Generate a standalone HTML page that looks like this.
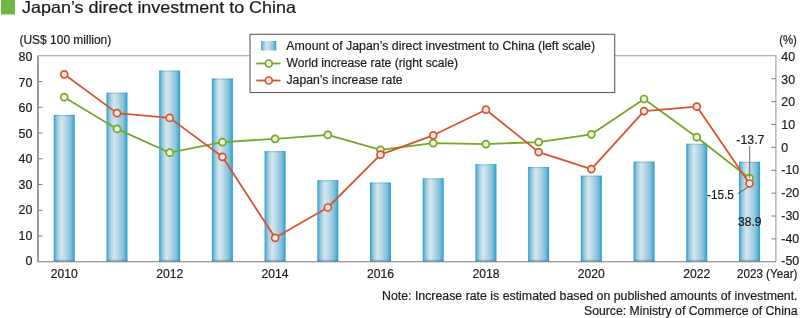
<!DOCTYPE html><html><head><meta charset="utf-8"><style>
html,body{margin:0;padding:0;background:#fff;width:800px;height:318px;overflow:hidden}
svg{position:absolute;left:0;top:0;display:block;will-change:transform}
text{font-family:"Liberation Sans",sans-serif;fill:#1e1a1b;stroke:#1e1a1b;stroke-width:0.2px;paint-order:stroke}
</style></head><body>
<svg width="800" height="318" viewBox="0 0 800 318">
<defs>
<linearGradient id="bg" x1="0" x2="1" y1="0" y2="0">
<stop offset="0" stop-color="#2c9bc6"/>
<stop offset="0.04" stop-color="#40a6cd"/>
<stop offset="0.1" stop-color="#78bcd8"/>
<stop offset="0.2" stop-color="#a6d0e1"/>
<stop offset="0.36" stop-color="#d5e7ef"/>
<stop offset="0.55" stop-color="#b8d8e6"/>
<stop offset="0.78" stop-color="#86c3dc"/>
<stop offset="0.9" stop-color="#5ab2d4"/>
<stop offset="0.95" stop-color="#3aa6cd"/>
<stop offset="1" stop-color="#2c9dc8"/>
</linearGradient>
</defs>

<rect x="1" y="0" width="14" height="14.5" fill="#6cb945"/>
<text x="22" y="12.8" font-size="16.5" textLength="274" lengthAdjust="spacingAndGlyphs">Japan’s direct investment to China</text>
<text x="19.5" y="43.8" font-size="12" textLength="91.75" lengthAdjust="spacingAndGlyphs">(US$ 100 million)</text>
<text x="779.2" y="44" font-size="12" textLength="17.7" lengthAdjust="spacingAndGlyphs">(%)</text>
<rect x="53.76" y="114.90" width="21" height="146.90" fill="url(#bg)"/>
<rect x="53.76" y="114.90" width="21" height="1.2" fill="#1a86b8" opacity="0.3"/>
<rect x="53.76" y="259.80" width="21" height="1.6" fill="#1a86b8" opacity="0.4"/>
<rect x="106.47" y="92.70" width="21" height="169.10" fill="url(#bg)"/>
<rect x="106.47" y="92.70" width="21" height="1.2" fill="#1a86b8" opacity="0.3"/>
<rect x="106.47" y="259.80" width="21" height="1.6" fill="#1a86b8" opacity="0.4"/>
<rect x="159.18" y="70.60" width="21" height="191.20" fill="url(#bg)"/>
<rect x="159.18" y="70.60" width="21" height="1.2" fill="#1a86b8" opacity="0.3"/>
<rect x="159.18" y="259.80" width="21" height="1.6" fill="#1a86b8" opacity="0.4"/>
<rect x="211.89" y="78.50" width="21" height="183.30" fill="url(#bg)"/>
<rect x="211.89" y="78.50" width="21" height="1.2" fill="#1a86b8" opacity="0.3"/>
<rect x="211.89" y="259.80" width="21" height="1.6" fill="#1a86b8" opacity="0.4"/>
<rect x="264.59" y="151.10" width="21" height="110.70" fill="url(#bg)"/>
<rect x="264.59" y="151.10" width="21" height="1.2" fill="#1a86b8" opacity="0.3"/>
<rect x="264.59" y="259.80" width="21" height="1.6" fill="#1a86b8" opacity="0.4"/>
<rect x="317.31" y="180.20" width="21" height="81.60" fill="url(#bg)"/>
<rect x="317.31" y="180.20" width="21" height="1.2" fill="#1a86b8" opacity="0.3"/>
<rect x="317.31" y="259.80" width="21" height="1.6" fill="#1a86b8" opacity="0.4"/>
<rect x="370.01" y="182.50" width="21" height="79.30" fill="url(#bg)"/>
<rect x="370.01" y="182.50" width="21" height="1.2" fill="#1a86b8" opacity="0.3"/>
<rect x="370.01" y="259.80" width="21" height="1.6" fill="#1a86b8" opacity="0.4"/>
<rect x="422.72" y="178.25" width="21" height="83.55" fill="url(#bg)"/>
<rect x="422.72" y="178.25" width="21" height="1.2" fill="#1a86b8" opacity="0.3"/>
<rect x="422.72" y="259.80" width="21" height="1.6" fill="#1a86b8" opacity="0.4"/>
<rect x="475.44" y="164.25" width="21" height="97.55" fill="url(#bg)"/>
<rect x="475.44" y="164.25" width="21" height="1.2" fill="#1a86b8" opacity="0.3"/>
<rect x="475.44" y="259.80" width="21" height="1.6" fill="#1a86b8" opacity="0.4"/>
<rect x="528.14" y="167.00" width="21" height="94.80" fill="url(#bg)"/>
<rect x="528.14" y="167.00" width="21" height="1.2" fill="#1a86b8" opacity="0.3"/>
<rect x="528.14" y="259.80" width="21" height="1.6" fill="#1a86b8" opacity="0.4"/>
<rect x="580.86" y="175.60" width="21" height="86.20" fill="url(#bg)"/>
<rect x="580.86" y="175.60" width="21" height="1.2" fill="#1a86b8" opacity="0.3"/>
<rect x="580.86" y="259.80" width="21" height="1.6" fill="#1a86b8" opacity="0.4"/>
<rect x="633.56" y="161.60" width="21" height="100.20" fill="url(#bg)"/>
<rect x="633.56" y="161.60" width="21" height="1.2" fill="#1a86b8" opacity="0.3"/>
<rect x="633.56" y="259.80" width="21" height="1.6" fill="#1a86b8" opacity="0.4"/>
<rect x="686.27" y="143.70" width="21" height="118.10" fill="url(#bg)"/>
<rect x="686.27" y="143.70" width="21" height="1.2" fill="#1a86b8" opacity="0.3"/>
<rect x="686.27" y="259.80" width="21" height="1.6" fill="#1a86b8" opacity="0.4"/>
<rect x="738.99" y="161.80" width="21" height="100.00" fill="url(#bg)"/>
<rect x="738.99" y="161.80" width="21" height="1.2" fill="#1a86b8" opacity="0.3"/>
<rect x="738.99" y="259.80" width="21" height="1.6" fill="#1a86b8" opacity="0.4"/>
<path d="M38,261.8 L38,55.8 L775.9,55.8 L775.9,261.8" fill="none" stroke="#9e9a9a" stroke-width="1.1"/>
<path d="M38,55.8 L38,261.8 L775.9,261.8" fill="none" stroke="#7f7979" stroke-width="1.1"/>
<line x1="38" x2="42.5" y1="236.05" y2="236.05" stroke="#7f7979" stroke-width="1"/>
<line x1="38" x2="42.5" y1="210.30" y2="210.30" stroke="#7f7979" stroke-width="1"/>
<line x1="38" x2="42.5" y1="184.55" y2="184.55" stroke="#7f7979" stroke-width="1"/>
<line x1="38" x2="42.5" y1="158.80" y2="158.80" stroke="#7f7979" stroke-width="1"/>
<line x1="38" x2="42.5" y1="133.05" y2="133.05" stroke="#7f7979" stroke-width="1"/>
<line x1="38" x2="42.5" y1="107.30" y2="107.30" stroke="#7f7979" stroke-width="1"/>
<line x1="38" x2="42.5" y1="81.55" y2="81.55" stroke="#7f7979" stroke-width="1"/>
<line x1="771.4" x2="775.9" y1="78.69" y2="78.69" stroke="#7f7979" stroke-width="1"/>
<line x1="771.4" x2="775.9" y1="101.58" y2="101.58" stroke="#7f7979" stroke-width="1"/>
<line x1="771.4" x2="775.9" y1="124.47" y2="124.47" stroke="#7f7979" stroke-width="1"/>
<line x1="771.4" x2="775.9" y1="147.36" y2="147.36" stroke="#7f7979" stroke-width="1"/>
<line x1="771.4" x2="775.9" y1="170.24" y2="170.24" stroke="#7f7979" stroke-width="1"/>
<line x1="771.4" x2="775.9" y1="193.13" y2="193.13" stroke="#7f7979" stroke-width="1"/>
<line x1="771.4" x2="775.9" y1="216.02" y2="216.02" stroke="#7f7979" stroke-width="1"/>
<line x1="771.4" x2="775.9" y1="238.91" y2="238.91" stroke="#7f7979" stroke-width="1"/>
<text x="32.3" y="265.40" font-size="12.4" text-anchor="end">0</text>
<text x="32.3" y="239.85" font-size="12.4" text-anchor="end">10</text>
<text x="32.3" y="214.30" font-size="12.4" text-anchor="end">20</text>
<text x="32.3" y="188.75" font-size="12.4" text-anchor="end">30</text>
<text x="32.3" y="163.20" font-size="12.4" text-anchor="end">40</text>
<text x="32.3" y="137.65" font-size="12.4" text-anchor="end">50</text>
<text x="32.3" y="112.10" font-size="12.4" text-anchor="end">60</text>
<text x="32.3" y="86.55" font-size="12.4" text-anchor="end">70</text>
<text x="32.3" y="61.00" font-size="12.4" text-anchor="end">80</text>
<text x="781.3" y="61.10" font-size="12.4">40</text>
<text x="781.3" y="83.78" font-size="12.4">30</text>
<text x="781.3" y="106.46" font-size="12.4">20</text>
<text x="781.3" y="129.13" font-size="12.4">10</text>
<text x="781.3" y="151.81" font-size="12.4">0</text>
<text x="781.3" y="174.49" font-size="12.4">-10</text>
<text x="781.3" y="197.17" font-size="12.4">-20</text>
<text x="781.3" y="219.84" font-size="12.4">-30</text>
<text x="781.3" y="242.52" font-size="12.4">-40</text>
<text x="781.3" y="265.20" font-size="12.4">-50</text>
<text x="50.76" y="278.2" font-size="12.3" textLength="27" lengthAdjust="spacingAndGlyphs">2010</text>
<text x="156.18" y="278.2" font-size="12.3" textLength="27" lengthAdjust="spacingAndGlyphs">2012</text>
<text x="261.59" y="278.2" font-size="12.3" textLength="27" lengthAdjust="spacingAndGlyphs">2014</text>
<text x="367.01" y="278.2" font-size="12.3" textLength="27" lengthAdjust="spacingAndGlyphs">2016</text>
<text x="472.44" y="278.2" font-size="12.3" textLength="27" lengthAdjust="spacingAndGlyphs">2018</text>
<text x="577.86" y="278.2" font-size="12.3" textLength="27" lengthAdjust="spacingAndGlyphs">2020</text>
<text x="683.27" y="278.2" font-size="12.3" textLength="27" lengthAdjust="spacingAndGlyphs">2022</text>
<text x="737" y="278.3" font-size="12" textLength="60.4" lengthAdjust="spacingAndGlyphs">2023 (Year)</text>
<polyline points="64.26,97.20 116.97,128.90 169.68,152.70 222.39,142.10 275.09,138.80 327.81,134.90 380.51,149.80 433.22,143.10 485.94,144.10 538.64,142.10 591.36,134.30 644.06,99.00 696.77,137.20 749.49,178.20" fill="none" stroke="#78a626" stroke-width="1.8" stroke-linejoin="round"/>
<circle cx="64.26" cy="97.20" r="3.5" fill="#eef2e2" stroke="#78a626" stroke-width="1.7"/>
<circle cx="116.97" cy="128.90" r="3.5" fill="#eef2e2" stroke="#78a626" stroke-width="1.7"/>
<circle cx="169.68" cy="152.70" r="3.5" fill="#eef2e2" stroke="#78a626" stroke-width="1.7"/>
<circle cx="222.39" cy="142.10" r="3.5" fill="#eef2e2" stroke="#78a626" stroke-width="1.7"/>
<circle cx="275.09" cy="138.80" r="3.5" fill="#eef2e2" stroke="#78a626" stroke-width="1.7"/>
<circle cx="327.81" cy="134.90" r="3.5" fill="#eef2e2" stroke="#78a626" stroke-width="1.7"/>
<circle cx="380.51" cy="149.80" r="3.5" fill="#eef2e2" stroke="#78a626" stroke-width="1.7"/>
<circle cx="433.22" cy="143.10" r="3.5" fill="#eef2e2" stroke="#78a626" stroke-width="1.7"/>
<circle cx="485.94" cy="144.10" r="3.5" fill="#eef2e2" stroke="#78a626" stroke-width="1.7"/>
<circle cx="538.64" cy="142.10" r="3.5" fill="#eef2e2" stroke="#78a626" stroke-width="1.7"/>
<circle cx="591.36" cy="134.30" r="3.5" fill="#eef2e2" stroke="#78a626" stroke-width="1.7"/>
<circle cx="644.06" cy="99.00" r="3.5" fill="#eef2e2" stroke="#78a626" stroke-width="1.7"/>
<circle cx="696.77" cy="137.20" r="3.5" fill="#eef2e2" stroke="#78a626" stroke-width="1.7"/>
<circle cx="749.49" cy="178.20" r="3.5" fill="#eef2e2" stroke="#78a626" stroke-width="1.7"/>
<polyline points="64.26,74.30 116.97,113.15 169.68,117.90 222.39,156.80 275.09,237.80 327.81,207.50 380.51,154.70 433.22,135.30 485.94,109.70 538.64,152.10 591.36,169.10 644.06,111.10 696.77,106.60 749.49,183.50" fill="none" stroke="#d6552f" stroke-width="1.8" stroke-linejoin="round"/>
<circle cx="64.26" cy="74.30" r="3.5" fill="#f6ebe4" stroke="#d6552f" stroke-width="1.7"/>
<circle cx="116.97" cy="113.15" r="3.5" fill="#f6ebe4" stroke="#d6552f" stroke-width="1.7"/>
<circle cx="169.68" cy="117.90" r="3.5" fill="#f6ebe4" stroke="#d6552f" stroke-width="1.7"/>
<circle cx="222.39" cy="156.80" r="3.5" fill="#f6ebe4" stroke="#d6552f" stroke-width="1.7"/>
<circle cx="275.09" cy="237.80" r="3.5" fill="#f6ebe4" stroke="#d6552f" stroke-width="1.7"/>
<circle cx="327.81" cy="207.50" r="3.5" fill="#f6ebe4" stroke="#d6552f" stroke-width="1.7"/>
<circle cx="380.51" cy="154.70" r="3.5" fill="#f6ebe4" stroke="#d6552f" stroke-width="1.7"/>
<circle cx="433.22" cy="135.30" r="3.5" fill="#f6ebe4" stroke="#d6552f" stroke-width="1.7"/>
<circle cx="485.94" cy="109.70" r="3.5" fill="#f6ebe4" stroke="#d6552f" stroke-width="1.7"/>
<circle cx="538.64" cy="152.10" r="3.5" fill="#f6ebe4" stroke="#d6552f" stroke-width="1.7"/>
<circle cx="591.36" cy="169.10" r="3.5" fill="#f6ebe4" stroke="#d6552f" stroke-width="1.7"/>
<circle cx="644.06" cy="111.10" r="3.5" fill="#f6ebe4" stroke="#d6552f" stroke-width="1.7"/>
<circle cx="696.77" cy="106.60" r="3.5" fill="#f6ebe4" stroke="#d6552f" stroke-width="1.7"/>
<circle cx="749.49" cy="183.50" r="3.5" fill="#f6ebe4" stroke="#d6552f" stroke-width="1.7"/>
<text x="736.3" y="144" font-size="12" textLength="28.2" lengthAdjust="spacingAndGlyphs">-13.7</text>
<line x1="749.7" x2="749.7" y1="146" y2="178" stroke="#707070" stroke-width="1"/>
<text x="707" y="198.8" font-size="12" textLength="26.8" lengthAdjust="spacingAndGlyphs">-15.5</text>
<line x1="737.8" y1="193.8" x2="748" y2="187" stroke="#4a4a4a" stroke-width="0.9"/>
<text x="737.9" y="225.8" font-size="12" textLength="23.6" lengthAdjust="spacingAndGlyphs">38.9</text>
<rect x="250" y="34.3" width="364.7" height="58.2" fill="#fff" stroke="#625e5e" stroke-width="1.1"/>
<rect x="261.25" y="41" width="15" height="9.5" fill="url(#bg)"/>
<line x1="256.25" x2="280.5" y1="63.5" y2="63.5" stroke="#78a626" stroke-width="1.8"/>
<circle cx="268.75" cy="63.5" r="3.5" fill="#eef2e2" stroke="#78a626" stroke-width="1.7"/>
<line x1="256.25" x2="280.5" y1="80.5" y2="80.5" stroke="#d6552f" stroke-width="1.8"/>
<circle cx="268.75" cy="80.5" r="3.5" fill="#f6ebe4" stroke="#d6552f" stroke-width="1.7"/>
<text x="286.3" y="49.6" font-size="12" textLength="308.8" lengthAdjust="spacingAndGlyphs">Amount of Japan’s direct investment to China (left scale)</text>
<text x="286.5" y="66.9" font-size="12" textLength="171.5" lengthAdjust="spacingAndGlyphs">World increase rate (right scale)</text>
<text x="286.5" y="84.05" font-size="12" textLength="116.1" lengthAdjust="spacingAndGlyphs">Japan’s increase rate</text>
<text x="382" y="300.2" font-size="12" textLength="415.5" lengthAdjust="spacingAndGlyphs">Note: Increase rate is estimated based on published amounts of investment.</text>
<text x="584" y="314.5" font-size="12" textLength="213.5" lengthAdjust="spacingAndGlyphs">Source: Ministry of Commerce of China</text>
</svg></body></html>
